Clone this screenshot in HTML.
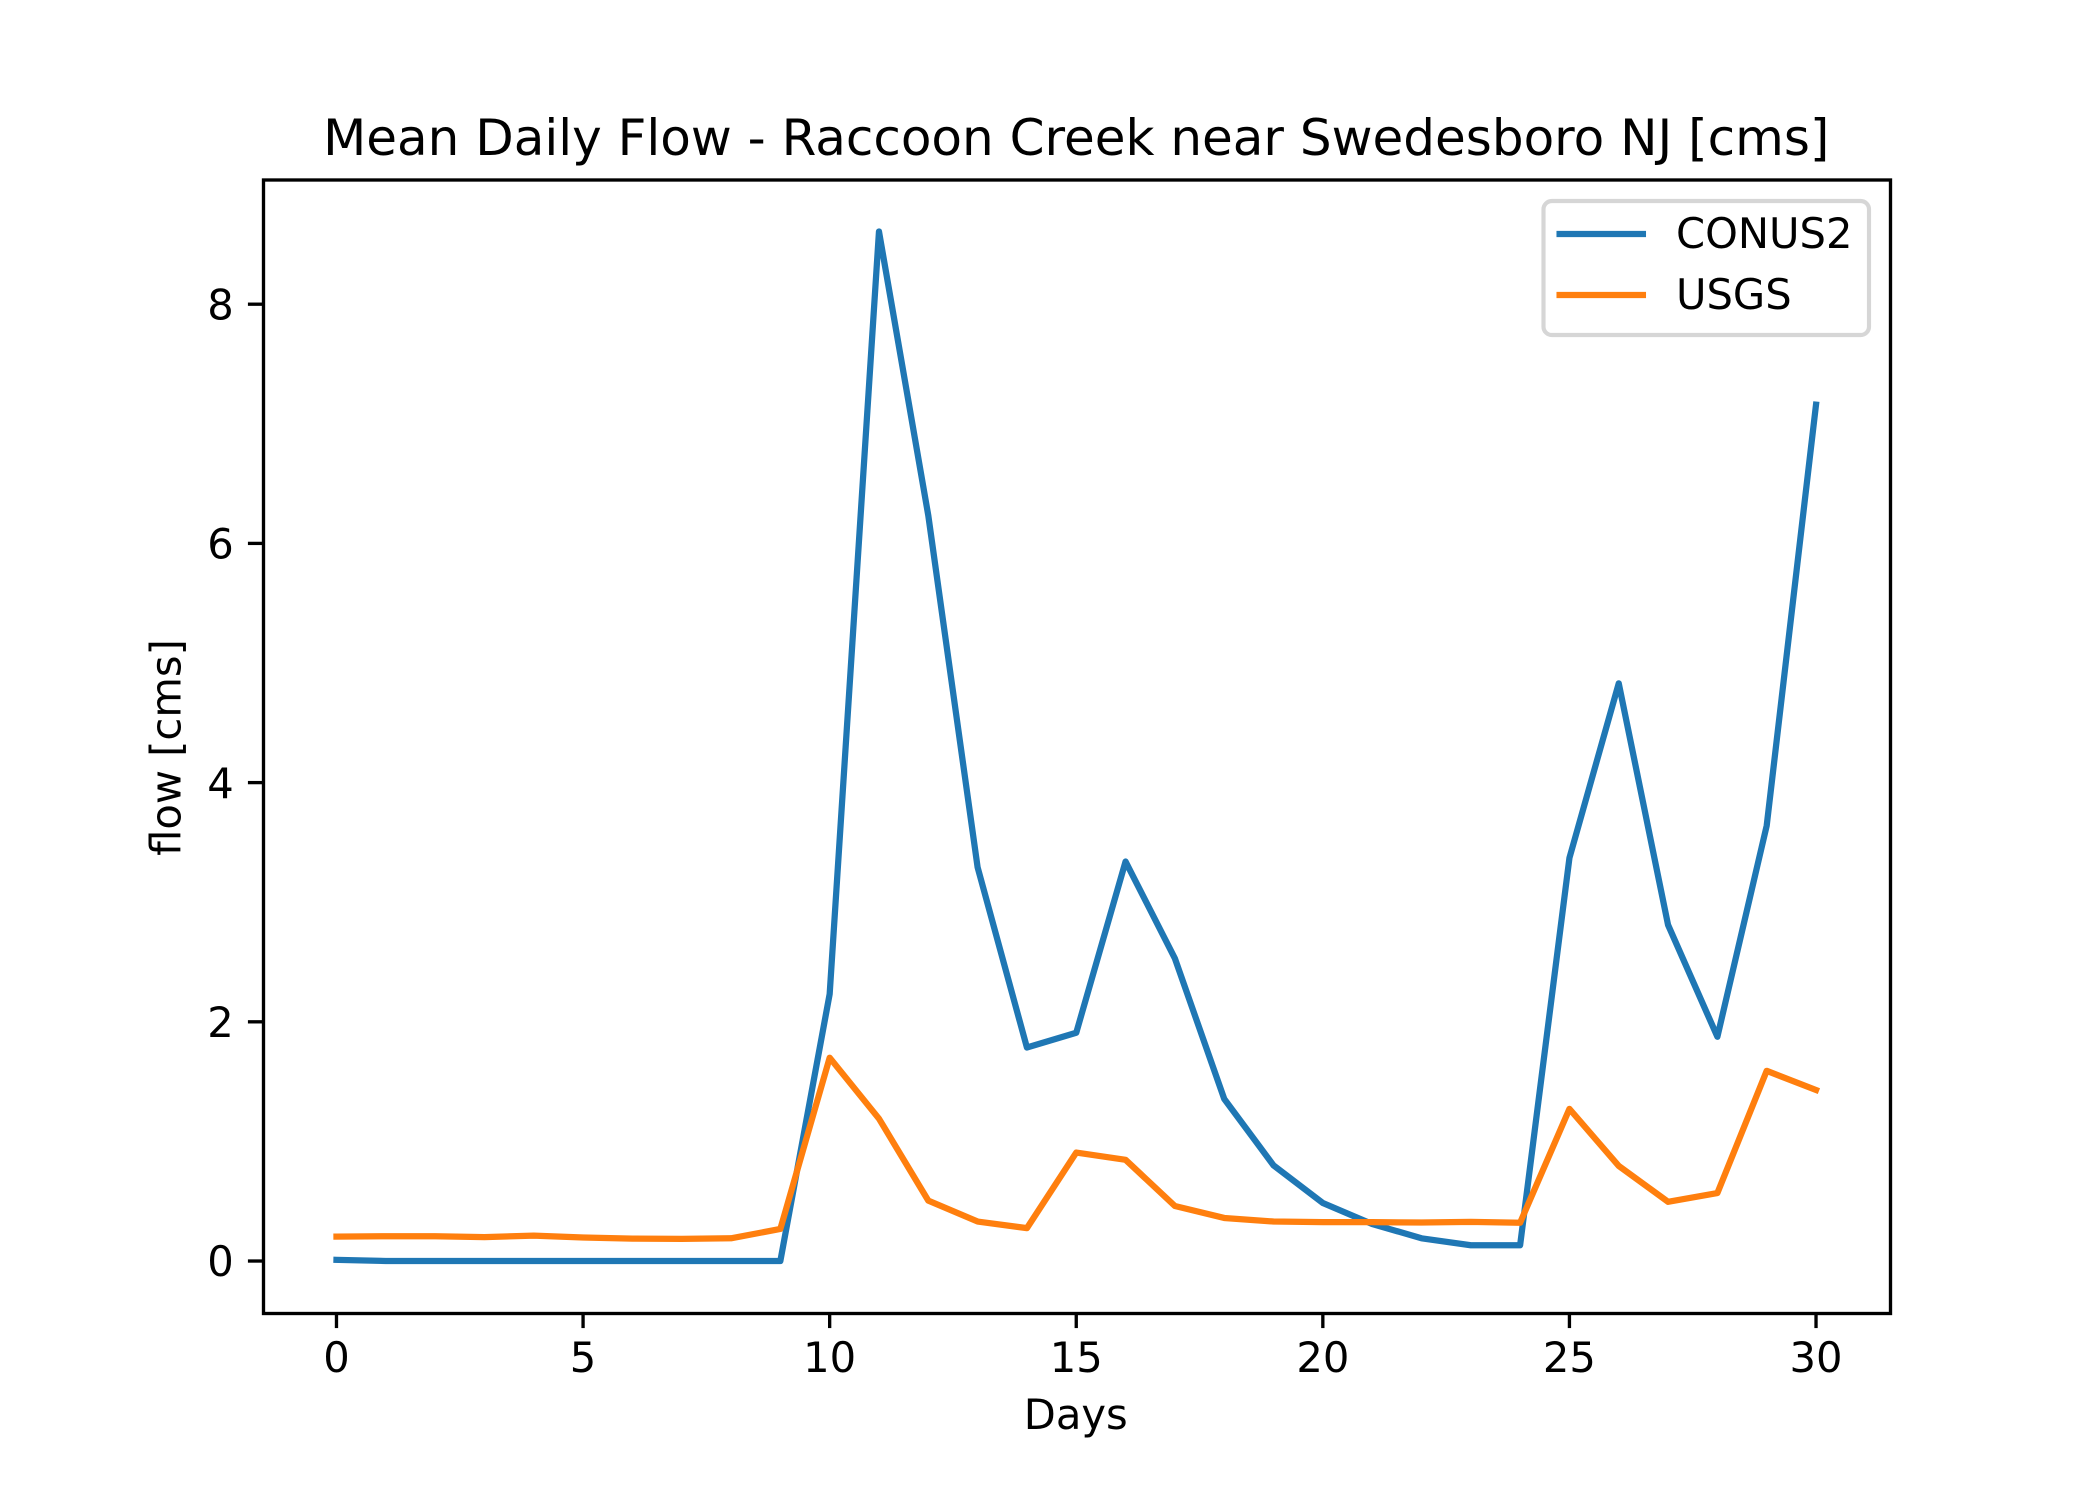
<!DOCTYPE html>
<html lang="en">
<head>
<meta charset="utf-8">
<title>Mean Daily Flow - Raccoon Creek near Swedesboro NJ [cms]</title>
<style>
html,body{margin:0;padding:0;background:#fff;}
svg{display:block;}
text{font-family:"DejaVu Sans","Liberation Sans",sans-serif;fill:#000;}
</style>
</head>
<body>
<svg id="chart" xmlns="http://www.w3.org/2000/svg" width="2100" height="1500" viewBox="0 0 2100 1500">
  <rect x="0" y="0" width="2100" height="1500" fill="#ffffff"/>
  <g id="series-layer"></g>
  <g id="tick-layer"></g>
  <rect x="263.5" y="180" width="1627" height="1133.5" fill="none" stroke="#000" stroke-width="3.33"/>
  <text x="1076.25" y="155" font-size="50" text-anchor="middle">Mean Daily Flow - Raccoon Creek near Swedesboro NJ [cms]</text>
  <text x="1075.75" y="1429" font-size="41.67" text-anchor="middle">Days</text>
  <text x="180.5" y="747.5" font-size="41.67" text-anchor="middle" transform="rotate(-90 180.5 747.5)">flow [cms]</text>
  <g>
    <rect x="1543.5" y="201" width="325.5" height="134" rx="8.3" ry="8.3" fill="#ffffff" fill-opacity="0.8" stroke="#d6d6d6" stroke-width="4.17"/>
    <line x1="1559.6" y1="234" x2="1642.9" y2="234" stroke="#1f77b4" stroke-width="6.25" stroke-linecap="square"/>
    <text x="1676" y="248" font-size="41.67">CONUS2</text>
    <line x1="1559.6" y1="295" x2="1642.9" y2="295" stroke="#ff7f0e" stroke-width="6.25" stroke-linecap="square"/>
    <text x="1676" y="309" font-size="41.67">USGS</text>
  </g>
</svg>
<script>
const days = [0,1,2,3,4,5,6,7,8,9,10,11,12,13,14,15,16,17,18,19,20,21,22,23,24,25,26,27,28,29,30];
const conus2 = [0.01,0,0,0,0,0,0,0,0,0,2.232,8.608,6.233,3.292,1.785,1.909,3.34,2.53,1.356,0.80,0.485,0.31,0.19,0.132,0.132,3.37,4.83,2.81,1.875,3.64,7.16];
const usgs = [0.204,0.207,0.207,0.2,0.212,0.197,0.187,0.185,0.19,0.268,1.70,1.19,0.505,0.33,0.275,0.907,0.846,0.46,0.36,0.33,0.325,0.325,0.322,0.327,0.32,1.272,0.795,0.495,0.568,1.59,1.43];
const xTicks = [0,5,10,15,20,25,30];
const yTicks = [0,2,4,6,8];

const NS = 'http://www.w3.org/2000/svg';
const plot = { left: 262.5, right: 1890, top: 180, bottom: 1312.5 };
const xDomain = [-1.5, 31.5];
const yDomain = [-0.4304, 9.0384];

function xScale(v) {
  return plot.left + (v - xDomain[0]) / (xDomain[1] - xDomain[0]) * (plot.right - plot.left);
}
function yScale(v) {
  return plot.bottom - (v - yDomain[0]) / (yDomain[1] - yDomain[0]) * (plot.bottom - plot.top);
}

const seriesLayer = document.getElementById('series-layer');
const tickLayer = document.getElementById('tick-layer');

function drawSeries(values, color, name) {
  const el = document.createElementNS(NS, 'polyline');
  
  
  el.setAttribute('points', values.map(function (v, i) {
    return xScale(days[i]).toFixed(2) + ',' + yScale(v).toFixed(2);
  }).join(' '));
  el.setAttribute('fill', 'none');
  el.setAttribute('stroke', color);
  el.setAttribute('stroke-width', '6.25');
  el.setAttribute('stroke-linejoin', 'round');
  el.setAttribute('stroke-linecap', 'square');
  seriesLayer.appendChild(el);
}

drawSeries(conus2, '#1f77b4', 'series-conus2');
drawSeries(usgs, '#ff7f0e', 'series-usgs');

xTicks.forEach(function (t) {
  const x = xScale(t);
  const mark = document.createElementNS(NS, 'line');
  
  
  mark.setAttribute('x1', x);
  mark.setAttribute('x2', x);
  mark.setAttribute('y1', plot.bottom + 1);
  mark.setAttribute('y2', plot.bottom + 15.58);
  mark.setAttribute('stroke', '#000');
  mark.setAttribute('stroke-width', '3.33');
  tickLayer.appendChild(mark);
  const label = document.createElementNS(NS, 'text');
  
  
  label.setAttribute('x', x);
  label.setAttribute('y', 1372);
  label.setAttribute('font-size', '41.67');
  label.setAttribute('text-anchor', 'middle');
  label.textContent = String(t);
  tickLayer.appendChild(label);
});

yTicks.forEach(function (t) {
  const y = yScale(t);
  const mark = document.createElementNS(NS, 'line');
  
  
  mark.setAttribute('x1', plot.left - 14.58);
  mark.setAttribute('x2', plot.left + 1);
  mark.setAttribute('y1', y);
  mark.setAttribute('y2', y);
  mark.setAttribute('stroke', '#000');
  mark.setAttribute('stroke-width', '3.33');
  tickLayer.appendChild(mark);
  const label = document.createElementNS(NS, 'text');
  
  
  label.setAttribute('x', plot.left - 28.7);
  label.setAttribute('y', y + 15.2);
  label.setAttribute('font-size', '41.67');
  label.setAttribute('text-anchor', 'end');
  label.textContent = String(t);
  tickLayer.appendChild(label);
});
</script>
</body>
</html>
